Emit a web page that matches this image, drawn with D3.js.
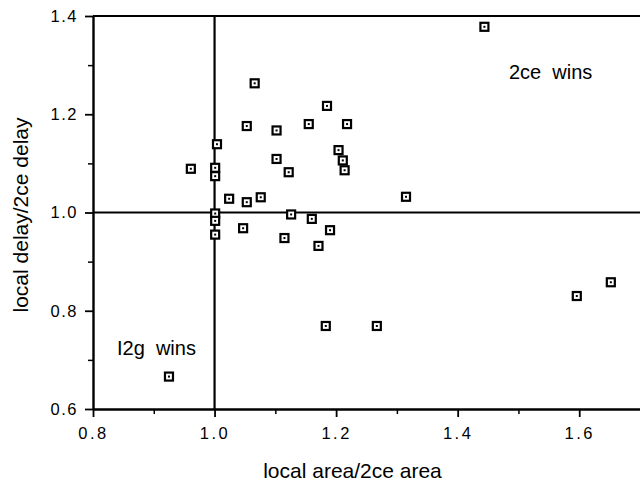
<!DOCTYPE html>
<html>
<head>
<meta charset="utf-8">
<script src="https://cdn.jsdelivr.net/npm/d3@7"></script>
<style>
  body { margin: 0; background: #fff; }
  svg { display: block; font-family: "Liberation Sans", Arial, sans-serif; }
  .axis path, .axis line { stroke: #000; }
  .axis text { fill: #000; }
</style>
</head>
<body>
<div id="chart"></div>
<script>
// local area / 2ce area  vs  local delay / 2ce delay, one entry per circuit
var areaRatio  = [1.444, 1.066, 1.053, 1.102, 1.155, 1.218, 1.185, 1.004, 0.961, 1.001,
                  1.001, 1.102, 1.122, 1.204, 1.211, 1.214, 1.024, 1.053, 1.076, 1.001,
                  1.001, 1.001, 1.047, 1.126, 1.160, 1.190, 1.115, 1.171, 1.183, 1.267,
                  1.315, 1.596, 1.652, 0.925];
var delayRatio = [1.378, 1.263, 1.176, 1.167, 1.180, 1.180, 1.217, 1.139, 1.089, 1.091,
                  1.074, 1.109, 1.082, 1.127, 1.106, 1.086, 1.028, 1.021, 1.031, 0.998,
                  0.983, 0.955, 0.968, 0.996, 0.987, 0.964, 0.948, 0.932, 0.769, 0.769,
                  1.032, 0.830, 0.858, 0.666];

var xMajor = [0.8, 1.0, 1.2, 1.4, 1.6];
var xMinor = [0.9, 1.1, 1.3, 1.5];
var yMajor = [0.6, 0.8, 1.0, 1.2, 1.4];
var yMinor = [0.7, 0.9, 1.1, 1.3];

var W = 640, H = 483;
// plot box (the right side runs off the page like the scan)
var pL = 93, pT = 16, pB = 409, pR = 640;

var x = d3.scaleLinear().domain([0.8, 1.7]).range([pL, pR]);
var y = d3.scaleLinear().domain([0.6, 1.4]).range([pB, pT]);

var svg = d3.select("#chart").append("svg")
    .attr("width", W).attr("height", H);

// minor ticks
svg.append("g").attr("class", "axis")
    .attr("transform", "translate(0," + pB + ")")
    .call(d3.axisBottom(x).tickValues(xMinor).tickSize(5).tickFormat(""))
    .call(g => g.select(".domain").remove())
    .selectAll("line").attr("stroke-width", 1.5);
svg.append("g").attr("class", "axis")
    .attr("transform", "translate(" + pL + ",0)")
    .call(d3.axisLeft(y).tickValues(yMinor).tickSize(5).tickFormat(""))
    .call(g => g.select(".domain").remove())
    .selectAll("line").attr("stroke-width", 1.5);

// major axes
var xAxis = svg.append("g").attr("class", "axis")
    .attr("transform", "translate(0," + pB + ")")
    .call(d3.axisBottom(x).tickValues(xMajor).tickSize(8).tickSizeOuter(0).tickPadding(10)
      .tickFormat(d3.format(".1f")));
xAxis.select(".domain").attr("stroke-width", 2.4);
xAxis.selectAll("line").attr("stroke-width", 1.8);
xAxis.selectAll("text").attr("font-size", 16.5).style("letter-spacing", "2.5px")
    .attr("font-family", "Liberation Sans, Arial, sans-serif");

var yAxis = svg.append("g").attr("class", "axis")
    .attr("transform", "translate(" + pL + ",0)")
    .call(d3.axisLeft(y).tickValues(yMajor).tickSize(8).tickSizeOuter(0).tickPadding(7)
      .tickFormat(d3.format(".1f")));
yAxis.select(".domain").attr("stroke-width", 2.4);
yAxis.selectAll("line").attr("stroke-width", 1.8);
yAxis.selectAll("text").attr("font-size", 16.5).style("letter-spacing", "1.5px")
    .attr("font-family", "Liberation Sans, Arial, sans-serif");

// top frame + reference lines at 1.0
svg.append("line")
    .attr("x1", pL).attr("x2", pR).attr("y1", pT).attr("y2", pT)
    .attr("stroke", "#000").attr("stroke-width", 2.2);
svg.append("line")
    .attr("x1", x(1.0)).attr("x2", x(1.0)).attr("y1", pT).attr("y2", pB)
    .attr("stroke", "#000").attr("stroke-width", 2.2);
svg.append("line")
    .attr("x1", pL).attr("x2", pR).attr("y1", y(1.0)).attr("y2", y(1.0))
    .attr("stroke", "#000").attr("stroke-width", 2.2);

// points: hollow square with a dot in the middle
var pts = svg.append("g").selectAll("g")
    .data(areaRatio.map(function(d, i) { return [d, delayRatio[i]]; }))
    .enter().append("g")
    .attr("transform", function(d) { return "translate(" + x(d[0]) + "," + y(d[1]) + ")"; });
pts.append("rect")
    .attr("x", -4).attr("y", -4).attr("width", 8).attr("height", 8)
    .attr("fill", "#fff").attr("stroke", "#000").attr("stroke-width", 2.2);
pts.append("rect")
    .attr("x", -1).attr("y", -1).attr("width", 2).attr("height", 2)
    .attr("fill", "#000");

// labels
svg.append("text")
    .attr("x", 509).attr("y", 79)
    .attr("font-size", 20).style("white-space", "pre")
    .text("2ce  wins");
svg.append("text")
    .attr("x", 117).attr("y", 355)
    .attr("font-size", 20).style("white-space", "pre")
    .text("I2g  wins");

svg.append("text")
    .attr("x", (258 + 447) / 2).attr("y", 478)
    .attr("text-anchor", "middle").attr("font-size", 21)
    .text("local area/2ce area");
svg.append("text")
    .attr("transform", "translate(28," + 215 + ") rotate(-90)")
    .attr("text-anchor", "middle").attr("font-size", 21)
    .text("local delay/2ce delay");
</script>
</body>
</html>
